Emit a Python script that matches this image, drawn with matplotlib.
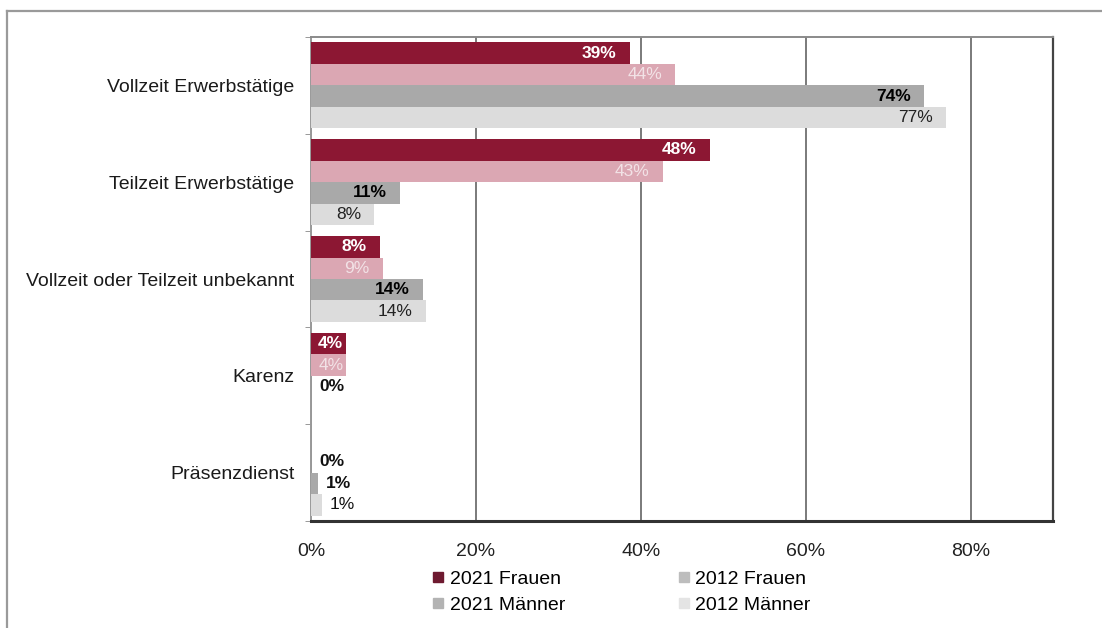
import numpy as np
import matplotlib
matplotlib.use("Agg")
import matplotlib.pyplot as plt
from matplotlib.lines import Line2D

plt.rcParams["font.family"] = ["Liberation Sans", "DejaVu Sans"]

# data (share in %); None = no bar, no label
categories = ["Vollzeit Erwerbstätige", "Teilzeit Erwerbstätige",
              "Vollzeit oder Teilzeit unbekannt", "Karenz", "Präsenzdienst"]
frauen_2021 = [38.7, 48.4, 8.4, 4.2, None]
frauen_2012 = [44.2, 42.7, 8.7, 4.3, 0.0]
maenner_2021 = [74.4, 10.8, 13.6, 0.0, 0.85]
maenner_2012 = [77.0, 7.7, 13.9, None, 1.3]
series_names = ["2021 Frauen", "2012 Frauen", "2021 Männer", "2012 Männer"]
x_ticks = [0, 20, 40, 60, 80]

series = [frauen_2021, frauen_2012, maenner_2021, maenner_2012]
bar_colors = ["#8c1733", "#dba7b3", "#a9a9a9", "#dcdcdc"]
legend_colors = ["#6e1a30", "#bdbdbd", "#b3b3b3", "#e4e4e4"]
label_colors = ["white", "#f2e2e6", "black", "#222222"]
label_weights = ["bold", "normal", "bold", "normal"]
out_weights = ["bold", "bold", "bold", "normal"]

fig = plt.figure(figsize=(11.02, 6.28), dpi=100)
ax = fig.add_axes([311 / 1102, 1 - 521 / 628, 742 / 1102, 484 / 628])

n = len(categories)
bh = 0.222
offsets = (np.arange(4) - 1.5) * bh
for k, vals in enumerate(series):
    for i, v in enumerate(vals):
        if v is None:
            continue
        y = i + offsets[k]
        ax.barh(y, v, height=bh, color=bar_colors[k], zorder=3)
        txt = f"{round(v):d}%"
        if v >= 6:
            ax.text(v - 1.6, y, txt, ha="right", va="center", fontsize=12.5,
                    color=label_colors[k], fontweight=label_weights[k], zorder=4)
        elif v >= 2:
            ax.text(v - 0.3, y, txt, ha="right", va="center", fontsize=12.5,
                    color=label_colors[k], fontweight=label_weights[k], zorder=4)
        else:
            ax.text(v + 1.0, y, txt, ha="left", va="center", fontsize=12.5,
                    color="#111111", fontweight=out_weights[k], zorder=4)

ax.set_xlim(0, 90)
ax.set_ylim(n - 0.5, -0.5)
ax.set_xticks(x_ticks)
ax.set_xticklabels([f"{t}%" for t in x_ticks], fontsize=14, color="#222222")
ax.tick_params(axis="x", length=0, pad=16)

ax.set_yticks(range(n))
ax.set_yticklabels(categories, fontsize=14, color="#1a1a1a")
ax.tick_params(axis="y", which="major", length=0, pad=12)
ax.set_yticks(np.arange(n + 1) - 0.5, minor=True)
ax.tick_params(axis="y", which="minor", length=4, color="#888888", direction="out")

ax.grid(axis="x", color="#7a7a7a", lw=1.4, zorder=1)
ax.spines["left"].set_color("#999999")
ax.spines["left"].set_linewidth(1.4)
ax.spines["top"].set_color("#8a8a8a")
ax.spines["top"].set_linewidth(1.4)
ax.spines["right"].set_color("#444444")
ax.spines["right"].set_linewidth(1.6)
ax.spines["bottom"].set_color("#333333")
ax.spines["bottom"].set_linewidth(2.2)

# outer frame (top and left edge only visible)
fig.add_artist(Line2D([7 / 1102, 1], [1 - 11 / 628, 1 - 11 / 628], color="#9a9a9a", lw=1.6))
fig.add_artist(Line2D([7 / 1102, 7 / 1102], [0, 1 - 11 / 628], color="#9a9a9a", lw=1.6))

order = [0, 2, 1, 3]
handles = [Line2D([], [], marker="s", ls="", markersize=6.5, color=legend_colors[k]) for k in order]
fig.legend(handles, [series_names[k] for k in order], ncol=2, loc="center",
           bbox_to_anchor=(0.564, 1 - 592 / 628), frameon=False, fontsize=14,
           handlelength=0.6, handletextpad=0.3, columnspacing=5.8, labelspacing=0.45)

fig.savefig("out.png", dpi=100)
